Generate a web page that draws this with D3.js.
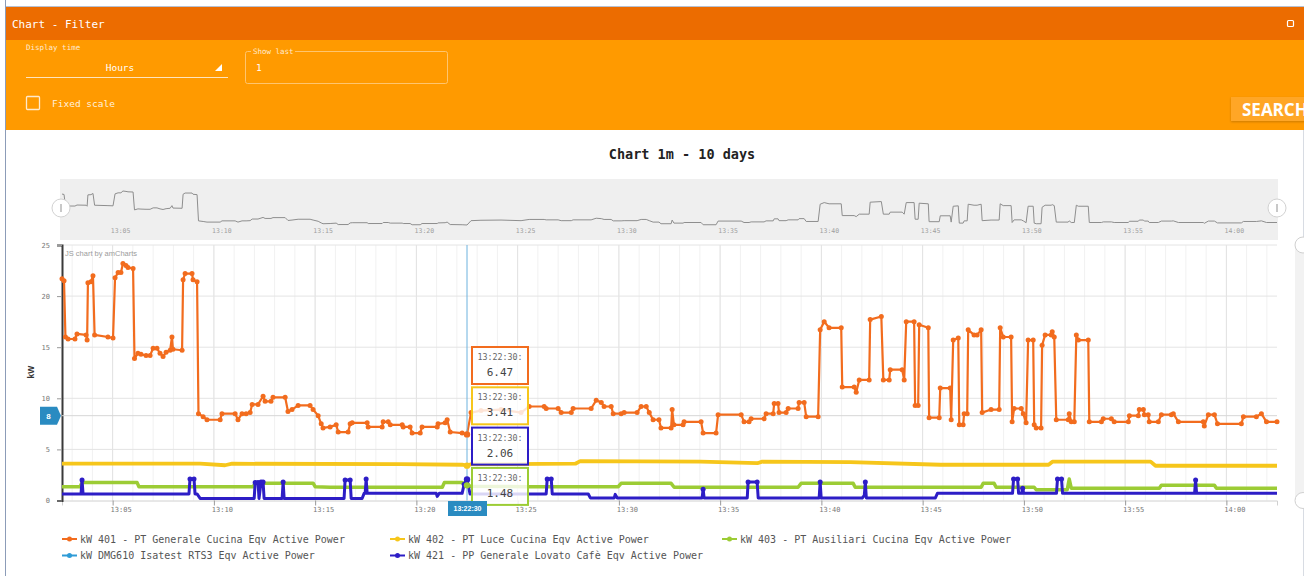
<!DOCTYPE html>
<html>
<head>
<meta charset="utf-8">
<script src="https://cdn.jsdelivr.net/npm/d3@7"></script>
<style>
  body { margin: 0; background: #fff; overflow: hidden; }
  svg { display: block; }
</style>
</head>
<body>
<svg id="chart"></svg>
<script>
/* DATA : [minutes after 13:00, kW] */
const kw401 = [[2.50,21.7],[2.60,21.5],[2.67,16.0],[2.80,15.8],[3.14,15.8],[3.24,16.3],[3.69,16.2],[3.74,15.7],[3.78,21.3],[3.93,21.4],[4.03,22.0],[4.11,16.2],[4.77,16.0],[5.02,15.9],[5.12,21.8],[5.27,22.3],[5.41,22.3],[5.51,23.2],[5.66,23.0],[5.76,22.8],[6.01,22.7],[6.08,13.9],[6.25,14.4],[6.40,14.3],[6.65,14.2],[6.85,14.2],[7.00,14.9],[7.19,14.9],[7.34,14.4],[7.49,14.1],[7.64,14.5],[7.84,14.7],[7.93,16.0],[7.98,14.8],[8.43,14.7],[8.48,21.6],[8.58,22.2],[8.92,22.2],[8.97,21.6],[9.17,21.4],[9.24,8.5],[9.47,8.2],[9.66,7.9],[10.31,7.9],[10.40,8.5],[11.05,8.5],[11.19,7.9],[11.39,8.5],[11.59,8.5],[11.79,8.6],[11.89,9.4],[12.18,9.4],[12.43,10.2],[12.53,9.7],[12.82,9.7],[12.92,10.1],[13.52,10.1],[13.66,8.7],[13.86,8.9],[14.16,9.3],[14.75,9.3],[14.90,8.9],[15.15,8.3],[15.30,7.5],[15.39,7.1],[15.74,7.2],[16.04,7.4],[16.14,6.7],[16.63,6.7],[16.73,7.5],[16.83,7.6],[17.57,7.6],[17.62,7.2],[18.31,7.2],[18.36,7.7],[18.61,7.7],[18.71,7.4],[19.30,7.4],[19.35,7.2],[19.69,7.2],[19.79,6.6],[20.19,6.6],[20.28,7.2],[21.03,7.2],[21.07,7.5],[21.42,7.6],[21.52,7.9],[21.67,6.7],[22.26,6.6],[22.50,6.47],[22.70,8.6],[23.19,8.8],[24.18,8.9],[25.17,8.6],[25.57,9.2],[26.31,9.2],[26.41,9.0],[27.00,9.0],[27.15,8.6],[27.65,8.6],[27.74,9.0],[28.63,9.0],[28.88,9.8],[29.13,9.6],[29.27,9.2],[29.62,9.2],[29.72,8.5],[30.11,8.5],[30.26,8.6],[30.90,8.6],[31.10,9.2],[31.35,9.2],[31.50,8.6],[31.69,7.9],[31.98,7.9],[32.08,7.1],[32.58,7.1],[32.63,8.9],[32.72,7.4],[33.17,7.4],[33.22,7.7],[34.06,7.7],[34.16,6.6],[34.80,6.6],[34.90,8.4],[36.04,8.4],[36.18,7.7],[36.43,7.7],[36.53,8.0],[37.17,8.0],[37.27,8.5],[37.62,8.5],[37.67,9.5],[37.86,9.5],[37.91,8.6],[38.26,8.6],[38.36,9.0],[38.85,9.0],[38.90,9.6],[39.15,9.6],[39.25,8.2],[39.84,8.2],[39.94,16.7],[40.14,17.5],[40.38,16.9],[40.98,16.9],[41.03,11.1],[41.62,11.1],[41.72,10.6],[41.87,11.8],[42.36,11.8],[42.41,17.7],[42.96,18.0],[43.06,11.8],[43.35,11.8],[43.40,12.8],[43.99,12.8],[44.09,11.8],[44.19,17.5],[44.58,17.5],[44.63,9.3],[44.78,9.3],[44.83,17.2],[45.28,16.9],[45.32,8.1],[45.82,8.1],[45.87,11.0],[46.36,11.0],[46.41,7.9],[46.51,15.7],[46.76,15.9],[46.81,7.4],[47.00,7.4],[47.05,8.5],[47.20,8.5],[47.25,16.7],[47.54,16.2],[47.69,16.2],[47.89,16.7],[47.94,8.6],[48.38,8.9],[48.78,8.9],[48.83,16.9],[48.98,16.0],[49.37,16.0],[49.42,7.7],[49.52,9.0],[49.87,9.0],[49.97,8.5],[50.11,7.6],[50.21,15.7],[50.46,15.7],[50.51,7.4],[50.61,7.1],[50.85,7.1],[50.90,15.2],[51.05,16.2],[51.35,16.2],[51.40,16.5],[51.50,16.0],[51.60,7.9],[52.19,7.9],[52.24,8.5],[52.34,7.7],[52.49,7.7],[52.59,16.2],[52.69,15.7],[53.18,15.7],[53.23,7.7],[53.83,7.7],[53.92,8.0],[54.32,8.0],[54.46,7.7],[55.16,7.7],[55.21,8.3],[55.65,8.3],[55.70,8.9],[55.90,8.9],[55.95,8.4],[56.14,8.4],[56.19,7.7],[56.64,7.7],[56.79,8.4],[57.28,8.4],[57.38,8.5],[57.63,7.7],[58.86,7.7],[58.91,7.3],[59.11,8.4],[59.41,8.4],[59.56,7.5],[60.74,7.5],[60.84,8.2],[61.48,8.2],[61.73,8.5],[61.98,7.7],[62.50,7.7]];

const kw402 = [[2.50,3.6],[9.32,3.6],[10.55,3.45],[10.90,3.6],[19.20,3.55],[22.26,3.5],[22.50,3.41],[22.70,3.55],[27.85,3.6],[28.09,3.85],[34.02,3.8],[36.84,3.65],[37.08,3.8],[41.43,3.75],[45.88,3.5],[51.22,3.5],[51.41,3.8],[56.26,3.8],[56.50,3.4],[62.50,3.4]];

const kw403 = [[2.50,1.35],[3.39,1.35],[3.49,1.75],[6.21,1.75],[6.30,1.35],[11.94,1.35],[12.04,1.7],[14.90,1.7],[15.00,1.35],[15.74,1.3],[21.28,1.3],[21.38,1.75],[22.26,1.75],[22.50,1.48],[22.70,1.4],[25.42,1.35],[29.97,1.35],[30.11,1.68],[32.58,1.68],[32.73,1.3],[38.85,1.3],[39.00,1.68],[41.57,1.68],[41.67,1.3],[47.89,1.3],[47.99,1.68],[48.53,1.68],[48.63,1.3],[50.51,1.3],[50.61,1.05],[52.14,1.05],[52.24,2.1],[52.34,1.2],[56.69,1.2],[56.79,1.5],[59.41,1.5],[59.51,1.2],[62.50,1.2]];

const kwDmg610 = [];

const kw421 = [[2.50,0.64],[3.44,0.64],[3.49,2.0],[3.54,0.64],[8.77,0.64],[8.82,2.1],[9.02,2.1],[9.07,0.64],[9.17,0.64],[9.32,0.2],[11.99,0.2],[12.04,1.75],[12.18,1.75],[12.23,0.2],[12.33,1.8],[12.43,1.8],[12.48,0.2],[13.37,0.2],[13.42,1.8],[13.47,0.2],[16.43,0.2],[16.48,2.0],[16.73,2.0],[16.78,0.2],[17.32,0.2],[17.42,0.7],[17.47,0.7],[17.52,2.1],[17.57,0.7],[20.98,0.7],[21.03,0.4],[21.13,0.7],[22.26,0.7],[22.36,1.6],[22.50,2.06],[22.65,0.64],[26.41,0.64],[26.46,2.1],[26.66,2.1],[26.71,0.64],[28.49,0.64],[28.59,0.25],[29.77,0.25],[29.82,0.6],[29.92,0.25],[34.11,0.25],[34.16,1.1],[34.21,0.25],[36.34,0.25],[36.38,1.8],[36.83,1.8],[36.88,0.25],[39.89,0.25],[39.94,1.8],[39.99,0.25],[42.02,0.25],[42.12,0.5],[42.17,1.8],[42.22,0.25],[45.63,0.25],[45.73,0.7],[49.44,0.7],[49.49,2.1],[49.69,2.1],[49.74,0.7],[49.89,0.7],[49.94,1.2],[49.99,0.7],[51.61,0.7],[51.66,2.1],[51.86,2.1],[51.91,0.7],[58.43,0.7],[58.48,2.0],[58.53,0.7],[62.50,0.7]];

const seriesNames = [
  "kW 401 - PT Generale Cucina Eqv Active Power",
  "kW 402 - PT Luce Cucina Eqv Active Power",
  "kW 403 - PT Ausiliari Cucina Eqv Active Power",
  "kW DMG610 Isatest RTS3 Eqv Active Power",
  "kW 421 - PP Generale Lovato Cafè Eqv Active Power"
];
const yTicks = [0, 5, 10, 15, 20, 25];
const timeRange = [2.5, 62.5];
const cursorMinute = 22.5;
const cursorValue = 8.3;
const chartTitle = "Chart 1m - 10 days";

/* CONSTANTS AND GLOBALS */
const width = 1304,
      height = 576,
      plot = {left: 62, right: 1277, top: 245, bottom: 500.5},
      scroll = {top: 179, bottom: 240, graphTop: 191, graphBottom: 225};
const mono = '"DejaVu Sans Mono", monospace';
const sans = '"Liberation Sans", Arial, sans-serif';
const colors = ["#F26C1E", "#F6C61B", "#9CCC35", "#2E9BD6", "#2D1DC6"];
const widths = [2.2, 3.8, 3.5, 2, 3];
const base = new Date(2021, 0, 1, 13, 0, 0);
const toDate = m => new Date(base.getTime() + m * 60000);

const series = [kw401, kw402, kw403, kwDmg610, kw421].map((data, i) => ({
  name: seriesNames[i], data: data, color: colors[i], width: widths[i]
}));

const svg = d3.select("#chart")
  .attr("width", width)
  .attr("height", height);

/* PANEL HEADER */
svg.append("rect")
  .attr("x", 6).attr("y", 7)
  .attr("width", width - 6).attr("height", 33)
  .attr("fill", "#EC6C00");
svg.append("rect")
  .attr("x", 6).attr("y", 40)
  .attr("width", width - 6).attr("height", 90)
  .attr("fill", "#FF9A00");
svg.append("line")
  .attr("x1", 6).attr("x2", width).attr("y1", 6.5).attr("y2", 6.5)
  .attr("stroke", "#B7C1D2");
svg.append("line")
  .attr("x1", 5.5).attr("x2", 5.5).attr("y1", 0).attr("y2", height)
  .attr("stroke", "#8C9CB8");
svg.append("line")
  .attr("x1", 1303.5).attr("x2", 1303.5).attr("y1", 130).attr("y2", height)
  .attr("stroke", "#D8DCE3");

svg.append("text")
  .attr("x", 12).attr("y", 28)
  .style("font-family", mono).style("font-size", "11px")
  .attr("fill", "#FFFFFF")
  .text("Chart - Filter");
svg.append("rect")
  .attr("x", 1287.5).attr("y", 20.5).attr("width", 6).attr("height", 6).attr("rx", 1)
  .attr("fill", "none").attr("stroke", "#FFFFFF").attr("stroke-width", 1.2);

/* FILTER FORM */
svg.append("text")
  .attr("x", 26).attr("y", 50)
  .style("font-family", mono).style("font-size", "7.5px")
  .attr("fill", "#FFEBD2")
  .text("Display time");
svg.append("text")
  .attr("x", 120).attr("y", 71).attr("text-anchor", "middle")
  .style("font-family", mono).style("font-size", "9.5px")
  .attr("fill", "#FFFFFF")
  .text("Hours");
svg.append("path")
  .attr("d", "M222,64L222,71L215,71Z")
  .attr("fill", "#FFFFFF");
svg.append("line")
  .attr("x1", 26).attr("x2", 228).attr("y1", 77.5).attr("y2", 77.5)
  .attr("stroke", "#FFE4BE").attr("stroke-width", 1.2);

svg.append("rect")
  .attr("x", 245.5).attr("y", 51.5).attr("width", 202).attr("height", 32).attr("rx", 2)
  .attr("fill", "none").attr("stroke", "#FFC56E");
svg.append("rect")
  .attr("x", 251).attr("y", 48).attr("width", 44).attr("height", 7)
  .attr("fill", "#FF9A00");
svg.append("text")
  .attr("x", 253).attr("y", 54)
  .style("font-family", mono).style("font-size", "7.5px")
  .attr("fill", "#FFEBD2")
  .text("Show last");
svg.append("text")
  .attr("x", 256).attr("y", 71)
  .style("font-family", mono).style("font-size", "9.5px")
  .attr("fill", "#FFFFFF")
  .text("1");

svg.append("rect")
  .attr("x", 26.5).attr("y", 96.5).attr("width", 13).attr("height", 13).attr("rx", 1)
  .attr("fill", "none").attr("stroke", "#FFE9CC").attr("stroke-width", 1.3);
svg.append("text")
  .attr("x", 52).attr("y", 107)
  .style("font-family", mono).style("font-size", "9.5px")
  .attr("fill", "#FFF1DE")
  .text("Fixed scale");

svg.append("rect")
  .attr("x", 1231).attr("y", 97).attr("width", 80).attr("height", 24)
  .attr("fill", "#FFA626")
  .style("filter", "drop-shadow(0px 1px 1px rgba(0,0,0,0.2))");
svg.append("text")
  .attr("x", 1242).attr("y", 116)
  .style("font-family", '"Open Sans", sans-serif').style("font-size", "17px").style("font-weight", "bold")
  .attr("fill", "#FFFFFF")
  .text("SEARCH");

/* CHART TITLE */
svg.append("text")
  .attr("x", 682).attr("y", 159).attr("text-anchor", "middle")
  .style("font-family", mono).style("font-size", "13.5px").style("font-weight", "bold")
  .attr("fill", "#222")
  .text(chartTitle);

/* SCALES */
const xScale = d3.scaleTime()
  .domain(timeRange.map(toDate))
  .range([plot.left, plot.right]);

const yScale = d3.scaleLinear()
  .domain([yTicks[0], yTicks[yTicks.length - 1]])
  .range([plot.bottom, plot.top]);

const scrollY = d3.scaleLinear()
  .domain(d3.extent(kw401, d => d[1]))
  .range([scroll.graphBottom, scroll.graphTop]);

const fiveMin = xScale.ticks(d3.timeMinute.every(5));
const oneMin = xScale.ticks(d3.timeMinute.every(1));

/* SCROLLBAR */
svg.append("rect")
  .attr("x", 60).attr("y", scroll.top)
  .attr("width", 1218).attr("height", scroll.bottom - scroll.top)
  .attr("fill", "#EFEFEF");

svg.append("path")
  .datum(kw401)
  .attr("fill", "none")
  .attr("stroke", "#8E8E8E")
  .attr("stroke-width", 1)
  .attr("d", d3.line().x(d => xScale(toDate(d[0]))).y(d => scrollY(d[1])));

svg.append("g")
  .selectAll("text")
  .data(fiveMin)
  .join("text")
    .attr("x", d => xScale(d) + 8)
    .attr("y", 233)
    .attr("text-anchor", "middle")
    .style("font-family", mono).style("font-size", "6.5px")
    .attr("fill", "#A0A0A0")
    .text(d3.timeFormat("%H:%M"));

[61, 1277].forEach(cx => {
  svg.append("circle")
    .attr("cx", cx).attr("cy", 208).attr("r", 9)
    .attr("fill", "#FFFFFF").attr("stroke", "#D2D2D2");
  svg.append("line")
    .attr("x1", cx).attr("x2", cx).attr("y1", 204).attr("y2", 212)
    .attr("stroke", "#C8C8C8").attr("stroke-width", 2);
});

/* GRID */
const grid = svg.append("g");
grid.selectAll("line.minor")
  .data(oneMin)
  .join("line")
    .attr("class", "minor")
    .attr("x1", d => xScale(d)).attr("x2", d => xScale(d))
    .attr("y1", plot.top).attr("y2", plot.bottom)
    .attr("stroke", "#F1F1F1");
grid.selectAll("line.major")
  .data(fiveMin)
  .join("line")
    .attr("class", "major")
    .attr("x1", d => xScale(d)).attr("x2", d => xScale(d))
    .attr("y1", plot.top).attr("y2", plot.bottom)
    .attr("stroke", "#E2E2E2");
grid.selectAll("line.hor")
  .data(yTicks.slice(1))
  .join("line")
    .attr("class", "hor")
    .attr("x1", plot.left).attr("x2", plot.right)
    .attr("y1", d => yScale(d)).attr("y2", d => yScale(d))
    .attr("stroke", "#E4E4E4");

/* VALUE SCROLLBAR (RIGHT) */
svg.append("rect")
  .attr("x", 1295).attr("y", plot.top).attr("width", 9).attr("height", plot.bottom - plot.top)
  .attr("fill", "#F2F2F2");
[plot.top, plot.bottom].forEach(cy => {
  svg.append("circle")
    .attr("cx", 1303).attr("cy", cy).attr("r", 8)
    .attr("fill", "#FFFFFF").attr("stroke", "#D0D0D0");
});

/* AXES */
svg.append("g")
  .attr("transform", `translate(0,${plot.bottom})`)
  .call(d3.axisBottom(xScale).tickValues(fiveMin).tickSize(5).tickFormat(d3.timeFormat("%H:%M")))
  .call(g => g.select(".domain").attr("stroke", "#D0D0D0"))
  .call(g => g.selectAll(".tick line").attr("stroke", "#999"))
  .call(g => g.selectAll(".tick text")
    .attr("x", 8).attr("y", 7)
    .style("font-family", mono).style("font-size", "7px")
    .attr("fill", "#777"));

svg.append("g")
  .attr("transform", `translate(${plot.left},0)`)
  .call(d3.axisLeft(yScale).tickValues(yTicks).tickSize(5).tickPadding(7))
  .call(g => g.select(".domain").attr("stroke", "#3A3A3A").attr("stroke-width", 2))
  .call(g => g.selectAll(".tick line").attr("stroke", "#999"))
  .call(g => g.selectAll(".tick text")
    .style("font-family", mono).style("font-size", "7px")
    .attr("fill", "#777"));

svg.append("text")
  .attr("transform", "translate(34,372) rotate(-90)")
  .attr("text-anchor", "middle")
  .style("font-family", sans).style("font-size", "8.5px").style("font-weight", "bold")
  .attr("fill", "#333")
  .text("kW");

svg.append("text")
  .attr("x", 65).attr("y", 256)
  .style("font-family", sans).style("font-size", "7.5px")
  .attr("fill", "#9C9C9C")
  .text("JS chart by amCharts");

/* CURSOR LINES */
const cx = xScale(toDate(cursorMinute));
svg.append("line")
  .attr("x1", plot.left).attr("x2", plot.right)
  .attr("y1", yScale(cursorValue)).attr("y2", yScale(cursorValue))
  .attr("stroke", "#D6D6D6");

/* SERIES */
const line = d3.line()
  .x(d => xScale(toDate(d[0])))
  .y(d => yScale(d[1]));

series.forEach(s => {
  svg.append("path")
    .datum(s.data)
    .attr("fill", "none")
    .attr("stroke", s.color)
    .attr("stroke-width", s.width)
    .attr("stroke-linejoin", "round")
    .attr("d", line);
});

svg.append("g")
  .selectAll("circle")
  .data(kw401)
  .join("circle")
    .attr("cx", d => xScale(toDate(d[0])))
    .attr("cy", d => yScale(d[1]))
    .attr("r", 2.5)
    .attr("fill", colors[0]);

svg.append("g")
  .selectAll("circle")
  .data(kw421.filter(d => d[1] > 1))
  .join("circle")
    .attr("cx", d => xScale(toDate(d[0])))
    .attr("cy", d => yScale(d[1]))
    .attr("r", 2.5)
    .attr("fill", colors[4]);

svg.append("line")
  .attr("x1", cx).attr("x2", cx)
  .attr("y1", plot.top).attr("y2", plot.bottom)
  .attr("stroke", "#6CB2DE");

/* TOOLTIPS */
const hits = series
  .filter(s => s.data.length)
  .map(s => ({color: s.color, value: s.data.find(d => d[0] === cursorMinute)[1]}))
  .sort((a, b) => b.value - a.value);

hits.forEach(h => {
  svg.append("circle")
    .attr("cx", cx).attr("cy", yScale(h.value)).attr("r", 3.2)
    .attr("fill", h.color);
});

const timeLabel = d3.timeFormat("%H:%M:%S")(toDate(cursorMinute));
const tip = svg.append("g")
  .selectAll("g")
  .data(hits)
  .join("g")
    .attr("transform", (d, i) => `translate(${cx + 5},${347 + i * 40.3})`);
tip.append("rect")
  .attr("width", 56).attr("height", 37)
  .attr("fill", "rgba(255,255,255,0.82)")
  .attr("stroke", d => d.color).attr("stroke-width", 2);
tip.append("text")
  .attr("x", 28).attr("y", 13).attr("text-anchor", "middle")
  .style("font-family", mono).style("font-size", "8.3px")
  .attr("fill", "#666")
  .text(timeLabel + ":");
tip.append("text")
  .attr("x", 28).attr("y", 29).attr("text-anchor", "middle")
  .style("font-family", mono).style("font-size", "11px")
  .attr("fill", "#444")
  .text(d => d.value.toFixed(2));

/* CURSOR BALLOONS */
svg.append("rect")
  .attr("x", cx - 19).attr("y", 501).attr("width", 39).attr("height", 15)
  .attr("fill", "#2A8BC1");
svg.append("text")
  .attr("x", cx + 0.5).attr("y", 511).attr("text-anchor", "middle")
  .style("font-family", sans).style("font-size", "7px").style("font-weight", "bold")
  .attr("fill", "#FFFFFF")
  .text(timeLabel);

const by = yScale(cursorValue);
svg.append("path")
  .attr("d", `M40,${by - 9}H57L61,${by}L57,${by + 9}H40Z`)
  .attr("fill", "#2A8BC1");
svg.append("text")
  .attr("x", 48.5).attr("y", by + 3).attr("text-anchor", "middle")
  .style("font-family", sans).style("font-size", "8px").style("font-weight", "bold")
  .attr("fill", "#FFFFFF")
  .text(Math.round(cursorValue));

/* LEGEND */
const legendCols = [62, 390, 722];
const legend = svg.append("g")
  .selectAll("g")
  .data(series)
  .join("g")
    .attr("transform", (d, i) => `translate(${legendCols[i % 3]},${539 + Math.floor(i / 3) * 16.5})`);
legend.append("line")
  .attr("x1", 0).attr("x2", 15)
  .attr("stroke", d => d.color).attr("stroke-width", 2);
legend.append("circle")
  .attr("cx", 7.5).attr("r", 2.5)
  .attr("fill", d => d.color);
legend.append("text")
  .attr("x", 18).attr("y", 3.5)
  .style("font-family", mono).style("font-size", "10px")
  .attr("fill", "#555")
  .text(d => d.name);
</script>
</body>
</html>
